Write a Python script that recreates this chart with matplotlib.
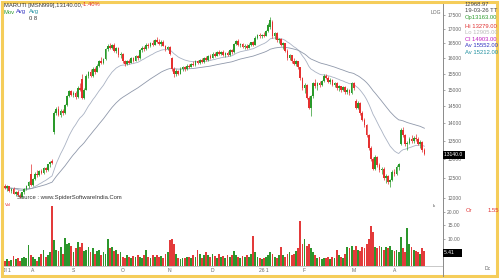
import matplotlib
matplotlib.use("Agg")
import matplotlib.pyplot as plt
import numpy as np
import pandas as pd
from matplotlib.patches import Rectangle
from matplotlib.lines import Line2D
from matplotlib.ticker import NullLocator

opens = [12300, 12250, 12290, 12170, 12230, 12110, 12150, 12060, 12020, 12140,
         12230, 12300, 12620, 12330, 12470, 12620, 12580, 12690, 12630, 12760,
         12700, 12860, 12950, 13750, 14300, 14420, 14250, 14360, 14300, 14520,
         14800, 14950, 14850, 14900, 14760, 15050, 15330, 14750, 15000, 15420,
         15550, 15420, 15650, 15560, 15760, 15900, 15850, 15970, 16300, 16420,
         16350, 16450, 16250, 16330, 16100, 16150, 15900, 15800, 15920, 15860,
         16000, 15920, 16060, 16000, 16260, 16350, 16300, 16460, 16400, 16500,
         16450, 16600, 16550, 16480, 16560, 16420, 16300, 16380, 16000, 15650,
         15480, 15600, 15500, 15660, 15700, 15640, 15760, 15720, 15820, 15780,
         15900, 15840, 15950, 15880, 16000, 15940, 16060, 16020, 16150, 16080,
         16200, 16130, 16220, 16120, 16180, 16100, 16260, 16200, 16480, 16580,
         16450, 16480, 16380, 16420, 16350, 16460, 16530, 16450, 16700, 16780,
         16740, 16800, 16760, 16920, 17050, 17250, 16750, 16850, 16600, 16650,
         16450, 16500, 16250, 16000, 16100, 15900, 15820, 15900, 15700, 15350,
         15050, 15150, 14750, 14450, 14800, 15200, 15100, 15200, 15130, 15270,
         15420, 15360, 15250, 15300, 15150, 15200, 15050, 15100, 15000, 15080,
         14920, 15000, 14900, 15200, 14650, 14450, 14600, 14300, 14100, 13950,
         13650, 13300, 13000, 12750, 13050, 12850, 12700, 12750, 12500, 12550,
         12400, 12450, 12650, 12600, 12800, 13400, 13800, 13650, 13400, 13450,
         13550, 13500, 13580, 13540, 13420, 13480, 13250]
highs = [12340, 12320, 12300, 12260, 12270, 12180, 12200, 12130, 12160, 12260,
         12330, 12420, 12860, 12500, 12650, 12700, 12720, 12740, 12780, 12800,
         12880, 12960, 12990, 14350, 14480, 14500, 14400, 14420, 14560, 14850,
         14980, 15000, 14950, 14960, 15100, 15200, 15500, 15050, 15480, 15600,
         15650, 15700, 15720, 15800, 15950, 16050, 16000, 16350, 16480, 16500,
         16480, 16500, 16380, 16360, 16200, 16170, 15950, 15950, 15980, 16050,
         16050, 16100, 16120, 16300, 16400, 16420, 16500, 16520, 16550, 16600,
         16650, 16720, 16650, 16600, 16620, 16460, 16420, 16400, 16050, 15700,
         15650, 15620, 15700, 15750, 15760, 15800, 15820, 15850, 15900, 15950,
         15960, 15980, 16000, 16050, 16080, 16100, 16150, 16200, 16220, 16250,
         16280, 16250, 16260, 16200, 16230, 16300, 16320, 16520, 16620, 16640,
         16520, 16500, 16470, 16480, 16500, 16560, 16580, 16750, 16820, 16850,
         16830, 16880, 16950, 17200, 17430, 17300, 16900, 16880, 16700, 16680,
         16550, 16520, 16300, 16150, 16120, 16000, 15950, 15920, 15720, 15400,
         15200, 15180, 14800, 14850, 15250, 15320, 15250, 15260, 15300, 15480,
         15500, 15420, 15350, 15320, 15250, 15230, 15150, 15120, 15120, 15100,
         15050, 15020, 15250, 15230, 14700, 14650, 14620, 14350, 14150, 13980,
         13700, 13350, 13050, 13100, 13080, 12900, 12800, 12780, 12600, 12580,
         12480, 12700, 12750, 12850, 12900, 13850, 13900, 13700, 13500, 13600,
         13650, 13620, 13680, 13600, 13520, 13500, 13300]
lows = [12220, 12180, 12150, 12120, 12090, 12060, 12040, 11990, 12000, 12110,
        12190, 12260, 12300, 12300, 12440, 12540, 12560, 12600, 12610, 12660,
        12690, 12800, 12860, 13700, 14250, 14200, 14180, 14250, 14280, 14500,
        14760, 14800, 14760, 14720, 14740, 14950, 14700, 14700, 14980, 15350,
        15380, 15400, 15500, 15540, 15700, 15820, 15800, 15950, 16250, 16300,
        16320, 16200, 16180, 16050, 16000, 15850, 15750, 15780, 15820, 15840,
        15880, 15900, 15950, 15980, 16200, 16250, 16280, 16350, 16380, 16420,
        16430, 16500, 16450, 16420, 16400, 16250, 16280, 16100, 15600, 15400,
        15420, 15450, 15480, 15600, 15600, 15620, 15680, 15700, 15750, 15760,
        15800, 15820, 15850, 15860, 15900, 15920, 15980, 16000, 16050, 16060,
        16100, 16100, 16080, 16050, 16080, 16080, 16150, 16180, 16450, 16400,
        16380, 16330, 16300, 16320, 16330, 16420, 16400, 16430, 16650, 16700,
        16680, 16720, 16740, 16900, 17000, 16700, 16650, 16550, 16500, 16420,
        16300, 16200, 15950, 15950, 15850, 15780, 15750, 15650, 15300, 15000,
        14900, 14700, 14400, 14200, 14750, 15050, 15000, 15080, 15100, 15250,
        15320, 15200, 15180, 15100, 15080, 15000, 14950, 14920, 14950, 14880,
        14880, 14850, 14880, 15000, 14400, 14420, 14250, 14050, 13900, 13600,
        13250, 12950, 12700, 12720, 12800, 12650, 12600, 12450, 12380, 12350,
        12270, 12420, 12550, 12580, 12700, 13380, 13600, 13350, 13250, 13400,
        13450, 13450, 13500, 13380, 13300, 13200, 13100]
closes = [12250, 12290, 12170, 12230, 12110, 12150, 12070, 12020, 12140, 12230,
          12300, 12390, 12330, 12470, 12620, 12580, 12690, 12630, 12760, 12700,
          12860, 12920, 12900, 14300, 14420, 14250, 14360, 14300, 14520, 14800,
          14950, 14850, 14900, 14760, 15050, 15000, 14750, 15000, 15420, 15550,
          15420, 15650, 15560, 15760, 15900, 15850, 15970, 16300, 16420, 16350,
          16450, 16250, 16330, 16100, 16150, 15900, 15800, 15920, 15860, 16000,
          15920, 16060, 16000, 16260, 16350, 16300, 16460, 16400, 16500, 16450,
          16600, 16550, 16480, 16560, 16420, 16300, 16380, 16150, 15650, 15480,
          15600, 15500, 15660, 15700, 15640, 15760, 15720, 15820, 15780, 15900,
          15840, 15950, 15880, 16000, 15940, 16060, 16020, 16150, 16080, 16200,
          16130, 16220, 16120, 16180, 16100, 16260, 16200, 16480, 16580, 16450,
          16480, 16380, 16420, 16350, 16460, 16530, 16450, 16700, 16780, 16740,
          16800, 16760, 16920, 17150, 17300, 16750, 16850, 16600, 16650, 16450,
          16500, 16250, 16000, 16100, 15900, 15820, 15900, 15700, 15350, 15050,
          15150, 14750, 14450, 14800, 15200, 15100, 15200, 15130, 15270, 15420,
          15360, 15250, 15300, 15150, 15200, 15050, 15100, 14980, 15080, 14920,
          15000, 14900, 15200, 15050, 14450, 14600, 14300, 14100, 13950, 13650,
          13300, 13000, 12750, 13050, 12850, 12700, 12750, 12500, 12550, 12400,
          12450, 12650, 12600, 12800, 12870, 13800, 13650, 13400, 13450, 13550,
          13500, 13580, 13540, 13420, 13480, 13250, 13140]
volumes = [2.0, 2.5, 1.8, 2.2, 3.7, 2.5, 3.0, 2.0, 2.8, 3.5,
           3.0, 7.8, 4.0, 3.5, 2.5, 2.0, 3.2, 4.5, 6.0, 3.5,
           4.0, 5.0, 22.0, 9.6, 6.0, 5.5, 7.0, 4.5, 10.4, 8.0,
           8.5, 7.5, 5.0, 6.5, 9.0, 7.0, 8.5, 5.5, 6.0, 7.0,
           5.0, 6.5, 4.5, 5.5, 6.0, 4.0, 5.0, 4.5, 10.0, 6.5,
           7.0, 5.5, 6.0, 4.5, 5.0, 3.5, 3.0, 4.0, 3.5, 3.0,
           3.8, 3.2, 4.0, 3.5, 3.0, 4.2, 6.0, 3.5, 3.0, 4.0,
           3.5, 4.0, 3.2, 3.8, 3.0, 4.5, 5.0, 9.6, 10.0, 8.0,
           4.5, 3.0, 2.5, 3.0, 2.8, 3.5, 3.2, 3.0, 4.0, 3.5,
           6.0, 4.5, 3.0, 4.0, 5.0, 4.2, 3.5, 4.5, 3.8, 3.0,
           4.5, 3.5, 3.8, 3.0, 4.0, 3.5, 4.2, 5.5, 4.0, 3.5,
           3.0, 3.8, 3.2, 4.0, 3.5, 4.5, 11.0, 5.0, 3.5, 3.0,
           2.5, 3.0, 3.5, 4.0, 5.0, 4.5, 3.5, 3.0, 4.0, 7.0,
           4.0, 3.5, 4.5, 5.0, 4.0, 4.5, 5.5, 6.5, 16.6, 8.0,
           10.0, 7.5, 8.0, 6.5, 5.0, 4.0, 3.0, 3.5, 2.5, 3.0,
           2.8, 3.2, 2.5, 3.5, 3.0, 6.0, 4.0, 3.5, 3.0, 4.5,
           7.0, 6.5, 7.5, 6.0, 7.5, 6.0, 5.5, 7.0, 6.5, 8.0,
           10.0, 14.8, 12.7, 7.0, 6.5, 7.5, 7.0, 6.0, 7.0, 6.5,
           7.5, 6.0, 5.5, 6.0, 5.0, 10.7, 6.5, 5.0, 14.0, 8.0,
           7.0, 6.0, 5.5, 5.0, 4.5, 6.5, 5.41]

month_labels = ["Jl 1", "A", "S", "O", "N", "D", "26 1", "F", "M", "A"]
month_pos = [1, 13, 32, 55, 77, 97, 121, 140, 163, 182]
price_ticks = [12000, 12500, 13000, 13500, 14000, 14500, 15000, 15500, 16000, 16500, 17000, 17500]
vol_ticks = [10, 15, 20]
ma_spans = [20, 50]

info_lines = [("12968.97", "#444444"), ("19-03-26 TT", "#444444"),
              ("Op13163.00", "#2E9B2E"), ("Hi 13279.00", "#E03030"),
              ("Lo 12905.00", "#BBBBBB"), ("Cl 14903.00", "#C020C0"),
              ("Av 15552.00", "#3030C0"), ("Av 15212.00", "#2090A0")]

W, H = 500, 280
fig = plt.figure(figsize=(5, 2.8), dpi=100)
fig.patch.set_facecolor("white")

def fx(x):
    return x / W

def fy(y):
    return 1 - y / H

GREEN = "#2A9A2A"
RED = "#E5302F"

o = np.array(opens, float)
h = np.array(highs, float)
l = np.array(lows, float)
c = np.array(closes, float)
v = np.array(volumes, float)
idx = np.arange(len(c))
up = c >= o
cols = np.where(up, GREEN, RED)

ax = fig.add_axes([fx(3), fy(200), fx(443) - fx(3), (200 - 3) / H])
axv = fig.add_axes([fx(3), fy(266), fx(443) - fx(3), (266 - 200) / H], sharex=ax)

ma_fast = pd.Series(c).ewm(span=ma_spans[0], adjust=False).mean()
ma_slow = pd.Series(c).ewm(span=ma_spans[1], adjust=False).mean()
ax.plot(idx, ma_fast, color="#A9B2C3", lw=0.6, zorder=1)
ax.plot(idx, ma_slow, color="#8F98AA", lw=0.6, zorder=1)

ax.vlines(idx, l, h, colors=cols, linewidth=0.5, zorder=2)
body = np.maximum(np.abs(c - o), 8)
ax.bar(idx, body, bottom=np.minimum(o, c), width=0.8, color=cols, linewidth=0, zorder=3)

ax.set_yscale("log")
ax.set_ylim(11950, 17930)
ax.set_xlim(-0.93, 204.7)
ax.yaxis.set_minor_locator(NullLocator())
ax.set_yticks(price_ticks)
ax.set_yticklabels([str(t) for t in price_ticks])
ax.yaxis.tick_right()
ax.tick_params(axis="y", direction="out", length=1.5, width=0.4, pad=1.5,
               labelsize=3.6, colors="#666666")
for lab in ax.get_yticklabels():
    lab.set_family("Liberation Sans")
ax.tick_params(axis="x", bottom=False, labelbottom=False)
for s in ["top", "left"]:
    ax.spines[s].set_visible(False)
ax.spines["right"].set_color("#8A8A8A")
ax.spines["right"].set_linewidth(0.7)
ax.spines["bottom"].set_color("#A0A0A0")
ax.spines["bottom"].set_linewidth(0.7)

vcols = np.where(up, "#2C962C", "#E33A3A")
axv.bar(idx, v, width=0.85, color=vcols, linewidth=0)
axv.set_ylim(0, 24.4)
axv.set_yticks(vol_ticks)
axv.set_yticklabels([f"{t:.2f}" for t in vol_ticks])
axv.yaxis.tick_right()
axv.tick_params(axis="y", direction="out", length=1.5, width=0.4, pad=1.5,
                labelsize=3.6, colors="#666666")
axv.set_xticks(month_pos)
axv.set_xticklabels(month_labels)
axv.tick_params(axis="x", length=0, pad=1.5, labelsize=3.6, colors="#666666")
for lab in axv.get_xticklabels() + axv.get_yticklabels():
    lab.set_family("Liberation Sans")
for s in ["top", "left"]:
    axv.spines[s].set_visible(False)
axv.spines["right"].set_color("#8A8A8A")
axv.spines["right"].set_linewidth(0.7)
axv.spines["bottom"].set_color("#C8C8C8")
axv.spines["bottom"].set_linewidth(0.7)

fig.add_artist(Line2D([fx(443), fx(443)], [fy(266), fy(276)], color="#8A8A8A", lw=0.7))

fs = 4.2
ff = "Liberation Sans"
fig.text(fx(4), fy(5), "MARUTI [MSN999],13140.00,", fontsize=fs, color="#333333",
         va="center", family=ff)
fig.text(fx(82), fy(5), "-1.40%", fontsize=fs, color="#E03030", va="center", family=ff)
fig.text(fx(4), fy(12), "Mov", fontsize=fs, color="#2E9B2E", va="center", family=ff)
fig.text(fx(16), fy(12), "Avg", fontsize=fs, color="#3030C0", va="center", family=ff)
fig.text(fx(29), fy(12), "Avg", fontsize=fs, color="#2090A0", va="center", family=ff)
fig.text(fx(29), fy(19), "0 8", fontsize=fs, color="#333333", va="center", family=ff)

fig.text(fx(431), fy(13), "LOG", fontsize=3.6, color="#666666", va="center", family=ff)

yy = [4.5, 11, 17.5, 26, 32, 39.5, 45.5, 52]
for (t, col), y in zip(info_lines, yy):
    fig.text(fx(465), fy(y), t, fontsize=fs, color=col, va="center", family=ff)

fig.text(fx(444), fy(155), "13140.0 ", fontsize=3.6, color="white", va="center",
         family=ff, bbox=dict(boxstyle="square,pad=0.25", fc="black", ec="none"))
fig.text(fx(444), fy(253), "5.41     ", fontsize=3.6, color="white", va="center",
         family=ff, bbox=dict(boxstyle="square,pad=0.25", fc="black", ec="none"))

fig.text(fx(17), fy(198), "Source : www.SpiderSoftwareIndia.Com", fontsize=fs,
         color="#333333", va="center", family=ff)
fig.text(fx(5), fy(205), "Vol", fontsize=3.2, color="#E03030", va="center", family=ff)
fig.text(fx(433), fy(206), "lk", fontsize=3.2, color="#555555", va="center", family=ff)
fig.text(fx(466), fy(211), "Or", fontsize=fs, color="#E03030", va="center", family=ff)
fig.text(fx(488), fy(211), "1.55", fontsize=fs, color="#E03030", va="center", family=ff)
fig.text(fx(485), fy(269), "Dc", fontsize=3.6, color="#666666", va="center", family=ff)

fig.add_artist(Rectangle((fx(1.5), fy(275.5)), fx(497) - fx(1.5), fy(1.5) - fy(275.5),
                         transform=fig.transFigure, fill=False,
                         edgecolor="#F5CD5A", linewidth=2.2))

fig.savefig("out.png", dpi=100)
